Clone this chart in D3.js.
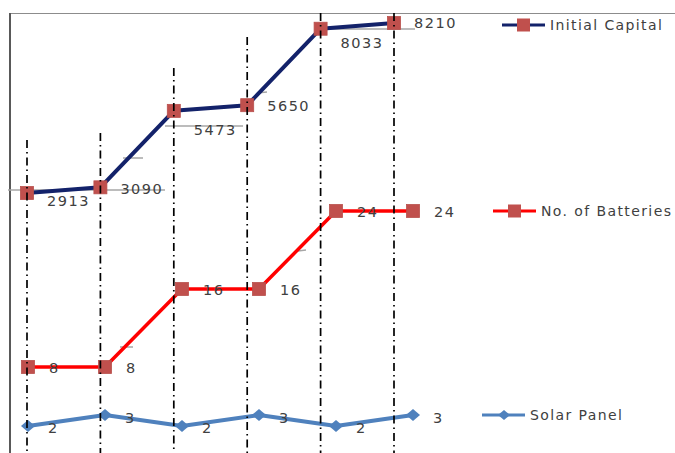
<!DOCTYPE html>
<html>
<head>
<meta charset="utf-8">
<script src="https://cdn.jsdelivr.net/npm/d3@7/dist/d3.min.js"></script>
<style>
  html, body { margin: 0; padding: 0; background: #fff; }
  svg { display: block; }
  text { font-family: "DejaVu Sans", Verdana, sans-serif; }
</style>
</head>
<body>
<svg id="chart" width="675" height="453"></svg>
<script>
// ---- data ----
const categories = ["S1", "S2", "S3", "S4", "S5", "S6"];
const initialCapital = [2913, 3090, 5473, 5650, 8033, 8210];
const batteries = [8, 8, 16, 16, 24, 24];
const solarPanels = [2, 3, 2, 3, 2, 3];
const seriesNames = ["Initial Capital", "No. of Batteries", "Solar Panel"];

// ---- layout ----
const W = 675, H = 453;
const svg = d3.select("#chart");
svg.append("rect").attr("width", W).attr("height", H).attr("fill", "#fff");

const xCap = d3.scalePoint().domain(categories).range([27, 394]);
const xLow = d3.scalePoint().domain(categories).range([28, 413]);
const yCap = d3.scaleLinear().domain([2000, 9000]).range([222.3, -2.3]);
const yBat = d3.scaleLinear().domain([0, 28]).range([445, 172]);
const ySol = d3.scaleLinear().domain([0, 4]).range([448, 404]);

const capColor = "#13226a", batColor = "#ff0000", solColor = "#4f81bd";
const markerFill = "#c0504d";
const labelColor = "#404040";

// frame
svg.append("line").attr("x1", 10).attr("x2", W).attr("y1", 13.5).attr("y2", 13.5)
  .attr("stroke", "#8c8c8c").attr("stroke-width", 1.2);
svg.append("line").attr("x1", 10).attr("x2", 10).attr("y1", 13).attr("y2", H)
  .attr("stroke", "#595959").attr("stroke-width", 2);

// label leader lines
const leaders = [
  [8, 190, 165, 190], [165, 126, 243, 126], [327, 29, 415, 29],
  [123, 158, 143, 158], [257, 93, 267, 92], [120, 347, 133, 347], [298, 251, 306, 250]
];
svg.append("g").selectAll("line").data(leaders).join("line")
  .attr("x1", d => d[0]).attr("y1", d => d[1]).attr("x2", d => d[2]).attr("y2", d => d[3])
  .attr("stroke", "#a6a6a6").attr("stroke-width", 1.5);

// series
function drawSeries(values, x, y, color, width, marker) {
  const pts = values.map((v, i) => [x(categories[i]), y(v)]);
  svg.append("path").attr("d", d3.line()(pts)).attr("fill", "none")
    .attr("stroke", color).attr("stroke-width", width).attr("stroke-linejoin", "round");
  const g = svg.append("g");
  if (marker === "square") {
    g.selectAll("rect").data(pts).join("rect")
      .attr("x", d => d[0] - 6.5).attr("y", d => d[1] - 6.5)
      .attr("width", 13).attr("height", 13)
      .attr("fill", markerFill).attr("stroke", "#b9504d").attr("stroke-width", 0.8);
  } else {
    g.selectAll("path").data(pts).join("path")
      .attr("d", d => `M${d[0] - 7},${d[1]} L${d[0]},${d[1] - 6} L${d[0] + 7},${d[1]} L${d[0]},${d[1] + 6} Z`)
      .attr("fill", solColor);
  }
  return pts;
}

const capPts = drawSeries(initialCapital, xCap, yCap, capColor, 4, "square");
const batPts = drawSeries(batteries, xLow, yBat, batColor, 3.5, "square");
const solPts = drawSeries(solarPanels, xLow, ySol, solColor, 4, "diamond");

// value labels
function drawLabels(values, pts, dx, dys) {
  svg.append("g").selectAll("text").data(values).join("text")
    .attr("x", (d, i) => pts[i][0] + dx)
    .attr("y", (d, i) => pts[i][1] + dys[i])
    .attr("dominant-baseline", "central")
    .attr("font-size", 14.5).attr("letter-spacing", 1.5)
    .attr("fill", labelColor)
    .text(d => d);
}
drawLabels(initialCapital, capPts, 20, [8, 2, 19, 1, 14, 0]);
drawLabels(batteries, batPts, 21, [1, 1, 1, 1, 1, 1]);
drawLabels(solarPanels, solPts, 20, [2, 3, 2, 3, 2, 3]);

// vertical drop guides (dash-dot), drawn above the series
const guideTop = [140, 133, 68, 37, 13, 13];
svg.append("g").selectAll("line").data(categories).join("line")
  .attr("x1", d => xCap(d)).attr("x2", d => xCap(d))
  .attr("y1", (d, i) => guideTop[i]).attr("y2", H)
  .attr("stroke", "#000").attr("stroke-width", 1.7)
  .attr("stroke-dasharray", "8,4,1.5,4");

// legend
const legend = [
  { name: seriesNames[0], color: capColor, marker: "square", x: 502, y: 25 },
  { name: seriesNames[1], color: batColor, marker: "square", x: 493, y: 211 },
  { name: seriesNames[2], color: solColor, marker: "diamond", x: 482, y: 415 }
];
const lg = svg.append("g").selectAll("g").data(legend).join("g")
  .attr("transform", d => `translate(${d.x},${d.y})`);
lg.append("line").attr("x1", 0).attr("x2", 43).attr("stroke", d => d.color).attr("stroke-width", 3);
lg.filter(d => d.marker === "square").append("rect")
  .attr("x", 15).attr("y", -6.5).attr("width", 13).attr("height", 13).attr("fill", markerFill);
lg.filter(d => d.marker === "diamond").append("path")
  .attr("d", "M16,0 L22,-5 L28,0 L22,5 Z").attr("fill", solColor);
lg.append("text").attr("x", 48).attr("y", 0).attr("dominant-baseline", "central")
  .attr("font-size", 14).attr("letter-spacing", 1.4).attr("fill", "#404040")
  .text(d => d.name);
</script>
</body>
</html>
